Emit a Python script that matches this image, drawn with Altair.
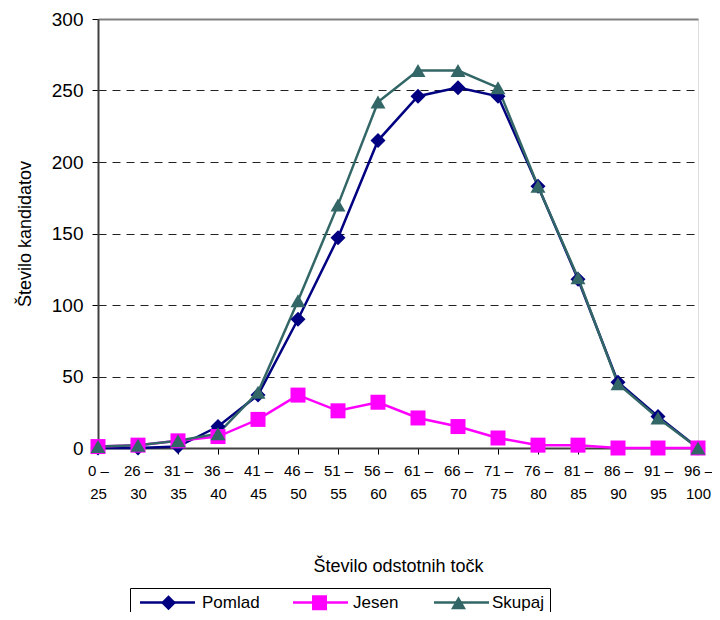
import altair as alt
import pandas as pd

categories = ["0 – 25", "26 – 30", "31 – 35", "36 – 40", "41 – 45", "46 – 50",
              "51 – 55", "56 – 60", "61 – 65", "66 – 70", "71 – 75", "76 – 80",
              "81 – 85", "86 – 90", "91 – 95", "96 – 100"]
series_names = ["Pomlad", "Jesen", "Skupaj"]
pomlad = [0, 0, 1, 15, 37, 90, 147, 215, 246, 252, 246, 183, 118, 46, 22, 0]
jesen = [1, 2, 5, 8, 20, 37, 26, 32, 21, 15, 7, 2, 2, 0, 0, 0]
skupaj = [1, 2, 5, 10, 39, 103, 170, 242, 264, 264, 252, 183, 119, 45, 21, 0]
y_ticks = [0, 50, 100, 150, 200, 250, 300]

colors = ["#000080", "#FF00FF", "#336666"]
shapes = ["diamond", "square", "triangle-up"]

rows = []
for name, vals in zip(series_names, [pomlad, jesen, skupaj]):
    for c, v in zip(categories, vals):
        rows.append({"cat": c, "val": v, "series": name, "series2": name})
df = pd.DataFrame(rows)

FONT = "Liberation Sans"

x = alt.X(
    "cat:N", sort=categories,
    scale=alt.Scale(type="point", padding=0),
    axis=alt.Axis(
        title="Število odstotnih točk", labelAngle=0,
        labelExpr="[split(datum.label, ' – ')[0] + ' –', split(datum.label, ' – ')[1]]",
        labelFontSize=15, labelLineHeight=23, labelPadding=9, labelColor="black",
        labelFont=FONT, titleFont=FONT, titleFontSize=18, titleFontWeight="normal",
        titleColor="black", titlePadding=56,
        domainColor="#404040", domainWidth=2, tickColor="black", tickSize=6,
        tickWidth=1,
    ),
)
y = alt.Y(
    "val:Q",
    scale=alt.Scale(domain=[0, 300], nice=False),
    axis=alt.Axis(
        values=y_ticks, title="Število kandidatov", grid=True,
        gridColor={"condition": {"test": "datum.value === 300", "value": "#808080"}, "value": "#222222"},
        gridDash={"condition": {"test": "datum.value === 300", "value": []}, "value": [8, 6]},
        gridWidth={"condition": {"test": "datum.value === 300", "value": 2}, "value": 1},
        labelFontSize=19, labelColor="black", labelFont=FONT, labelPadding=9,
        titleFont=FONT, titleFontSize=18, titleFontWeight="normal", titleColor="black",
        titlePadding=17,
        domainColor="#404040", domainWidth=2, tickColor="black", tickSize=6,
    ),
)

# legend of the line strokes (no visible labels), overlaid on the marker legend
line_legend = alt.Legend(
    title=None, orient="none", direction="horizontal", legendX=34.5, legendY=548.5,
    symbolType="stroke", symbolSize=3025, symbolStrokeWidth=2.5,
    labelFontSize=17, labelFont=FONT, labelColor="transparent", labelOffset=6,
    columnPadding=27, padding=6,
)
# legend of the markers, with labels and the frame
shape_legend = alt.Legend(
    title=None, orient="none", direction="horizontal", legendX=32, legendY=569,
    symbolSize=225, symbolStrokeWidth=0, symbolOpacity=1, symbolOffset=24,
    labelFontSize=17, labelFont=FONT, labelColor="black", labelOffset=25,
    columnPadding=27, padding=6, strokeColor="black",
)

lines = alt.Chart(df).mark_line(strokeWidth=2.5).encode(
    x=x, y=y,
    color=alt.Color("series:N", scale=alt.Scale(domain=series_names, range=colors),
                    legend=line_legend),
)
points = alt.Chart(df).mark_point(filled=True, size=225, opacity=1, strokeWidth=0).encode(
    x=x, y=y,
    fill=alt.Fill("series2:N", scale=alt.Scale(domain=series_names, range=colors),
                  legend=shape_legend),
    shape=alt.Shape("series2:N", scale=alt.Scale(domain=series_names, range=shapes),
                    legend=shape_legend),
)

chart = alt.layer(lines, points).resolve_legend(color="independent").properties(
    width=600, height=429,
    autosize=alt.AutoSizeParams(type="none"),
    padding={"left": 90, "top": 11, "right": 14, "bottom": 164},
).configure_view(stroke="#808080", strokeWidth=2).configure(font=FONT)

chart.save("out.html", embed_options={"renderer": "svg", "actions": False})
